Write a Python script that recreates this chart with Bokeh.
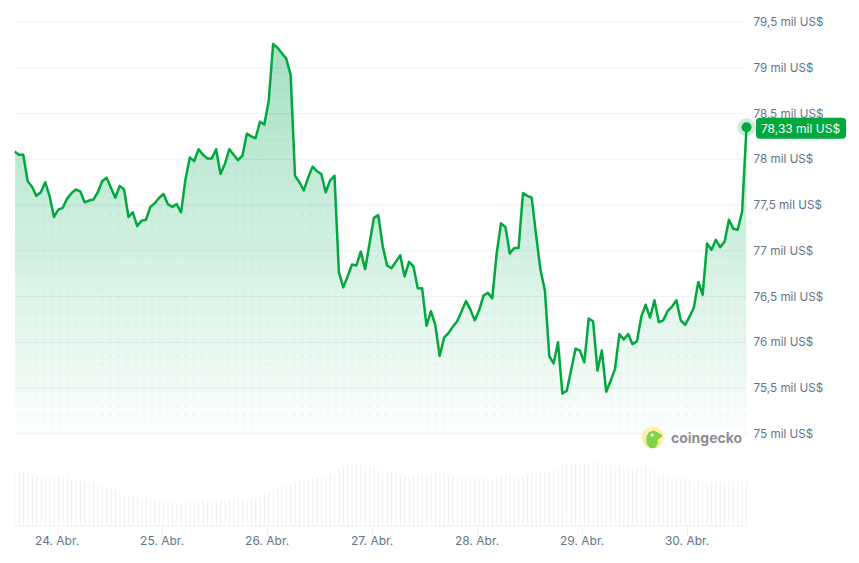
from bokeh.plotting import figure
from bokeh.models import Range1d, FixedTicker, Label, BoxAnnotation
from bokeh.embed import file_html
from bokeh.resources import INLINE
import numpy as np

# thousands of US$
prices = [
 78.085,78.05,78.05,77.76,77.70,77.60,77.64,77.75,77.60,77.37,77.45,77.47,77.57,77.63,77.67,77.65,
 77.53,77.55,77.56,77.64,77.76,77.80,77.69,77.58,77.71,77.67,77.37,77.42,77.27,77.33,77.34,77.48,
 77.52,77.58,77.62,77.51,77.48,77.51,77.42,77.78,78.02,77.98,78.11,78.05,78.01,78.01,78.11,77.84,
 77.95,78.11,78.05,77.99,78.04,78.28,78.25,78.23,78.41,78.38,78.64,79.26,79.22,79.16,79.10,78.92,
 77.82,77.75,77.66,77.80,77.92,77.87,77.84,77.64,77.77,77.82,76.77,76.60,76.72,76.85,76.84,76.99,
 76.80,77.08,77.36,77.39,77.05,76.84,76.81,76.88,76.95,76.72,76.88,76.83,76.59,76.59,76.18,76.34,
 76.19,75.85,76.05,76.10,76.17,76.23,76.34,76.45,76.36,76.24,76.35,76.51,76.54,76.48,76.97,77.30,
 77.26,76.97,77.03,77.03,77.63,77.60,77.58,77.17,76.79,76.57,75.85,75.77,76.00,75.44,75.47,75.70,
 75.93,75.91,75.78,76.26,76.23,75.69,75.91,75.46,75.58,75.71,76.09,76.03,76.09,75.98,76.01,76.28,
 76.41,76.27,76.46,76.22,76.24,76.34,76.39,76.46,76.24,76.19,76.28,76.38,76.66,76.52,77.08,77.01,
 77.12,77.04,77.10,77.34,77.24,77.23,77.43,78.35,
]
# billions of US$ (estimated)
volumes = [
 56,55.3,54.7,55.3,52,50,49.3,49.3,49.3,49.3,49.3,50.3,49.3,46.3,46.3,45.3,45.3,44,43.3,41,40.3,40.3,
 37.3,36.3,34.3,31.3,30.3,30.3,29.3,26.3,27.7,27,26.3,25.3,25.3,25.3,24.3,23.3,23.3,24.3,25.3,25.3,
 25.3,25.3,25.3,25.3,25.3,25.3,26.3,26.3,26.3,26.3,26.3,26.3,27.7,28.3,30.3,32.3,33.3,36.3,39,40.3,
 41,41.3,44,45.3,47,47,48.3,49.3,49.3,50.3,51.3,52.3,58.3,61.3,63,62.3,62.3,63,60.3,59.7,59,57.3,
 54.3,54,54.3,54.3,51.3,49.3,49.3,50.3,50.3,50.3,52.3,53.3,55.3,55.3,52.3,51.3,51.3,50.3,49.3,49.3,
 50.3,48.3,48.3,48.3,49.3,47.3,48.3,51.3,49.3,52.3,49.3,50.3,48.3,52.3,52.3,54.3,55.3,54.3,56.3,57.3,
 58.3,61.3,62.3,63.3,63.3,64.3,63.3,63.3,64.3,64.3,62.3,61.3,62.3,61.3,60.3,59.3,59.3,57.3,57.3,58.3,
 60.3,59.3,56.3,53.3,52.3,50.3,49.3,48.3,48.3,48.3,47.3,44.3,46.3,45.3,44.3,45.3,44.3,44.3,44.3,45.3,
 45.3,45.3,46.3,44.3,
]
tick_days = [24, 25, 26, 27, 28, 29, 30]
tick_labels = ["24. Abr.", "25. Abr.", "26. Abr.", "27. Abr.", "28. Abr.", "29. Abr.", "30. Abr."]
price_ticks = [75, 75.5, 76, 76.5, 77, 77.5, 78, 78.5, 79, 79.5]
price_tick_labels = ["75 mil US$", "75,5 mil US$", "76 mil US$", "76,5 mil US$", "77 mil US$",
                     "77,5 mil US$", "78 mil US$", "78,5 mil US$", "79 mil US$", "79,5 mil US$"]
current_label = "78,33 mil US$"

GREEN = "#00a83e"
GRID = "#eff2f5"
TEXT = "#64748b"

# Scale: 105 px per day, 91.5 px per thousand dollars
day_of = lambda px: 24 + (px - 56.6) / 105
price_of = lambda py: 75 + (433.3 - py) / 91.5

p = figure(width=859, height=563, output_backend="svg", toolbar_location=None,
           x_range=Range1d(day_of(14), day_of(859)), y_range=Range1d(price_of(526), price_of(16)),
           y_axis_location="right", min_border_left=14, min_border_right=0,
           min_border_top=16, min_border_bottom=37)
p.outline_line_color = None
p.background_fill_color = "white"
p.border_fill_color = "white"
p.extra_y_ranges = {"vol": Range1d(0, 510)}

xs = np.linspace(day_of(14), day_of(746), len(prices))
xv = np.linspace(day_of(14.3), day_of(746), len(volumes))
parr = np.array(prices)
x_left, x_right = day_of(14), day_of(746)

# Axes & grid
p.xgrid.visible = False
p.ygrid.visible = False
p.segment(x0=[x_left] * len(price_ticks), x1=[x_right] * len(price_ticks),
          y0=price_ticks, y1=price_ticks, line_color=GRID, line_width=1)
p.yaxis.fixed_location = x_right
p.yaxis.ticker = FixedTicker(ticks=price_ticks)
p.yaxis.major_label_overrides = dict(zip(price_ticks, price_tick_labels))
p.yaxis.axis_line_color = None
p.yaxis.major_tick_line_color = None
p.yaxis.minor_tick_line_color = None
p.yaxis.major_tick_in = 0
p.yaxis.major_tick_out = 0
p.yaxis.minor_tick_out = 0
p.yaxis.major_label_standoff = 7
p.yaxis.major_label_text_font = "Inter"
p.yaxis.major_label_text_font_size = "11.7px"
p.yaxis.major_label_text_color = TEXT
p.xaxis.ticker = FixedTicker(ticks=tick_days)
p.xaxis.major_label_overrides = dict(zip(tick_days, tick_labels))
p.xaxis.axis_line_color = None
p.xaxis.major_tick_line_color = GRID
p.xaxis.major_tick_in = 0
p.xaxis.major_tick_out = 9
p.xaxis.minor_tick_line_color = None
p.xaxis.major_label_standoff = -3
p.xaxis.major_label_text_font = "Inter"
p.xaxis.major_label_text_font_size = "12px"
p.xaxis.major_label_text_color = TEXT

# Volume bars and their base line
p.vbar(x=xv, top=volumes, bottom=0, width=1.1 / 105, y_range_name="vol",
       fill_color=GRID, line_color=None)
p.segment(x0=[x_left], x1=[x_right], y0=[0], y1=[0], y_range_name="vol",
          line_color=GRID, line_width=2)

# Gradient area under the line: stacked translucent bands
LAYERS = 30
for lvl in np.linspace(75.0, 79.2, LAYERS):
    p.varea(x=xs, y1=np.full(len(xs), lvl), y2=np.maximum(parr, lvl),
            fill_color=GREEN, fill_alpha=3 / 255)

# Dot texture inside the area
dx, dy = np.meshgrid(np.arange(day_of(18), day_of(746), 8.35 / 105),
                     np.arange(price_of(431), price_of(40), 8.35 / 91.5))
dx, dy = dx.ravel(), dy.ravel()
mask = dy < np.interp(dx, xs, parr)
p.scatter(x=dx[mask], y=dy[mask], size=3.6, marker="circle", fill_color=GREEN,
          fill_alpha=0.035, line_color=None)

# Price line and its end marker
p.line(xs, parr, line_color=GREEN, line_width=2.5, line_join="round")
p.scatter(x=xs[-1:], y=parr[-1:], size=18, marker="circle", fill_color=GREEN,
          fill_alpha=0.2, line_color=None)
p.scatter(x=xs[-1:], y=parr[-1:], size=10, marker="circle", fill_color=GREEN, line_color=None)

p.add_layout(Label(x=xs[-1], y=parr[-1], x_offset=9.5, y_offset=-1, text=current_label,
                   text_baseline="middle", text_color="white", text_font="Inter",
                   text_font_size="12px", text_font_style="normal",
                   background_fill_color=GREEN, border_radius=4,
                   padding=dict(left=5, right=6, top=3, bottom=3), level="overlay"))

# CoinGecko watermark
p.add_layout(Label(x=day_of(668.5), y=price_of(437), text="coingecko", text_baseline="middle",
                   text_font="Inter", text_font_style="bold", text_font_size="14px",
                   text_color="#8b8e94", background_fill_color="white", padding=2))
p.scatter(x=[day_of(652.3)], y=[price_of(437)], size=22, marker="circle",
          fill_color="#fbf0a6", line_color=None)
logo_px = np.array([[78, 78], [85, 65], [100, 60], [112, 66], [127, 74], [120, 82], [112, 88],
                    [112, 100], [105, 112], [90, 113], [78, 100]]) / 3 + np.array([620, 410])
p.patch(x=day_of(logo_px[:, 0]), y=price_of(logo_px[:, 1]), fill_color="#7ed348", line_color=None)
p.scatter(x=[day_of(651.7)], y=[price_of(434.5)], size=3.5, marker="circle",
          fill_color="#f4f4f0", line_color=None)

# Start of the table below the chart
def screen_box(l, r, t, b):
    return BoxAnnotation(left=l, right=r, top=t, bottom=b, left_units="screen", right_units="screen",
                         top_units="screen", bottom_units="screen",
                         fill_color=GRID, fill_alpha=1, line_color=None)

p.add_layout(screen_box(14, 746, 554.5, 556.5))
for sx in (14, 108, 389, 670, 745):
    p.add_layout(screen_box(sx, sx + 1.3, 555, 563))

open("out.html", "w").write(file_html(p, INLINE))
